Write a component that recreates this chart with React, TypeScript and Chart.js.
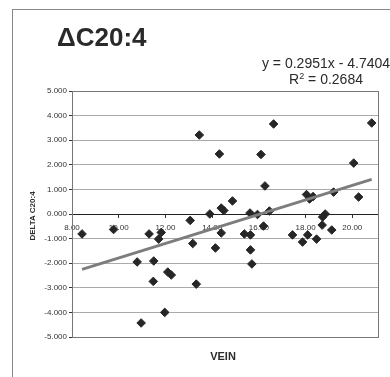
import React, { useEffect, useRef } from "react";
import { Chart, registerables } from "chart.js";

Chart.register(...registerables);

// VEIN (x) values and DELTA C20:4 (y) values
const veinValues = [
  8.43, 9.78, 11.3, 11.82, 11.71, 10.79, 11.5, 11.48, 12.1, 12.25,
  11.97, 10.96, 13.32, 13.06, 13.17, 13.45, 13.9, 14.14, 14.31, 14.39,
  14.5, 14.39, 14.87, 15.38, 15.64, 15.62, 15.64, 15.7, 15.94, 16.09,
  16.2, 16.26, 16.45, 16.63, 17.44, 17.87, 18.09, 18.04, 18.32, 18.17,
  18.47, 18.71, 18.84, 18.73, 19.12, 19.2, 20.06, 20.27, 20.83,
];
const deltaValues = [
  -0.81, -0.63, -0.81, -0.75, -1.02, -1.95, -1.91, -2.74, -2.36, -2.48,
  -4.0, -4.43, -2.85, -0.26, -1.2, 3.21, 0.0, -1.38, 2.44, 0.24,
  0.14, -0.77, 0.53, -0.81, -0.85, 0.04, -1.46, -2.03, -0.02, 2.42,
  -0.49, 1.14, 0.12, 3.66, -0.85, -1.14, -0.85, 0.79, 0.71, 0.61,
  -1.02, -0.45, 0.0, -0.12, -0.65, 0.89, 2.07, 0.69, 3.7,
];

const xTicks = [8, 10, 12, 14, 16, 18, 20];
const yTicks = [-5, -4, -3, -2, -1, 0, 1, 2, 3, 4, 5];

const trendSlope = 0.2951;
const trendIntercept = -4.7404;
const rSquared = 0.2684;

const titleText = "\u0394C20:4";
const xAxisTitle = "VEIN";
const yAxisTitle = "DELTA C20:4";

const FONT = "'Liberation Sans', Arial, sans-serif";

export default function App() {
  const canvasRef = useRef<HTMLCanvasElement | null>(null);

  useEffect(() => {
    if (!canvasRef.current) return;
    const points = veinValues.map((x, i) => ({ x, y: deltaValues[i] }));
    const xMin = Math.min(...veinValues);
    const xMax = Math.max(...veinValues);
    const trend = [xMin, xMax].map((x) => ({ x, y: trendSlope * x + trendIntercept }));

    const plotBorder = {
      id: "plotBorder",
      beforeDatasetsDraw(chart: any) {
        const { ctx, chartArea } = chart;
        ctx.save();
        ctx.strokeStyle = "#777";
        ctx.lineWidth = 1;
        ctx.strokeRect(
          Math.round(chartArea.left) + 0.5,
          Math.round(chartArea.top) + 0.5,
          Math.round(chartArea.right - chartArea.left),
          Math.round(chartArea.bottom - chartArea.top)
        );
        ctx.restore();
      },
    };

    const chart = new Chart(canvasRef.current, {
      type: "scatter",
      data: {
        datasets: [
          {
            type: "line",
            data: trend,
            borderColor: "#7d7d7d",
            borderWidth: 3,
            pointRadius: 0,
            order: 0,
          } as any,
          {
            data: points,
            pointStyle: "rectRot",
            pointRadius: 4.3,
            backgroundColor: "#262626",
            borderColor: "#262626",
            borderWidth: 1,
            order: 1,
          },
        ],
      },
      options: {
        animation: false,
        responsive: false,
        maintainAspectRatio: false,
        layout: { padding: { left: 0, top: 91, right: 12, bottom: 40 } },
        plugins: {
          legend: { display: false },
          tooltip: { enabled: false },
          title: { display: false },
        },
        scales: {
          x: {
            type: "linear",
            min: 8,
            max: 21.1,
            position: { y: 0 } as any,
            afterFit: (scale: any) => {
              scale.height = 0;
            },
            afterBuildTicks: (scale: any) => {
              scale.ticks = xTicks.map((v) => ({ value: v }));
            },
            grid: {
              drawOnChartArea: false,
              drawTicks: true,
              tickLength: 3,
              tickColor: "#333",
            },
            border: { display: true, color: "#222", width: 1 },
            ticks: {
              color: "#333",
              font: { family: FONT, size: 8 },
              padding: 6,
              maxRotation: 0,
              autoSkip: false,
              callback: (v: any) => Number(v).toFixed(2),
            },
          },
          y: {
            type: "linear",
            min: -5,
            max: 5,
            afterFit: (scale: any) => {
              scale.width = 72;
            },
            afterBuildTicks: (scale: any) => {
              scale.ticks = yTicks.map((v) => ({ value: v }));
            },
            grid: {
              color: "#aaa",
              lineWidth: 1,
              drawTicks: true,
              tickLength: 3,
              tickColor: "#333",
            },
            border: { display: true, color: "#333", width: 1 },
            ticks: {
              color: "#333",
              font: { family: FONT, size: 8 },
              padding: 2,
              autoSkip: false,
              callback: (v: any) => Number(v).toFixed(3),
            },
          },
        },
      },
      plugins: [plotBorder],
    });
    return () => chart.destroy();
  }, []);

  return (
    <div
      style={{
        position: "absolute",
        left: 0,
        top: 0,
        width: 390,
        height: 377,
        background: "#fff",
        overflow: "hidden",
        fontFamily: FONT,
        color: "#222",
      }}
    >
      <div
        style={{
          position: "absolute",
          left: 12,
          top: 9,
          width: 390,
          height: 377,
          borderLeft: "1px solid #888",
          borderTop: "1px solid #888",
        }}
      />
      <canvas
        ref={canvasRef}
        width={390}
        height={377}
        style={{ position: "absolute", left: 0, top: 0, width: 390, height: 377 }}
      />
      <div
        style={{
          position: "absolute",
          left: 57,
          top: 24,
          fontSize: 26,
          lineHeight: "26px",
          fontWeight: "bold",
          whiteSpace: "nowrap",
          color: "#2a2a2a",
        }}
      >
        {titleText}
      </div>
      <div
        style={{
          position: "absolute",
          left: 246,
          top: 55,
          width: 160,
          textAlign: "center",
          fontSize: 14,
          lineHeight: "16px",
          whiteSpace: "nowrap",
          color: "#2a2a2a",
        }}
      >
        <div>
          y = {trendSlope}x - {Math.abs(trendIntercept)}
        </div>
        <div>
          R<span style={{ fontSize: 9, position: "relative", top: -5 }}>2</span> = {rSquared}
        </div>
      </div>
      <div
        style={{
          position: "absolute",
          left: 173,
          top: 350,
          width: 100,
          textAlign: "center",
          fontSize: 11,
          lineHeight: "12px",
          fontWeight: "bold",
          color: "#2a2a2a",
        }}
      >
        {xAxisTitle}
      </div>
      <div
        style={{
          position: "absolute",
          left: 33 - 40,
          top: 216 - 5,
          width: 80,
          height: 10,
          lineHeight: "10px",
          textAlign: "center",
          fontSize: 8,
          fontWeight: "bold",
          whiteSpace: "nowrap",
          transform: "rotate(-90deg)",
          color: "#2a2a2a",
        }}
      >
        {yAxisTitle}
      </div>
    </div>
  );
}
